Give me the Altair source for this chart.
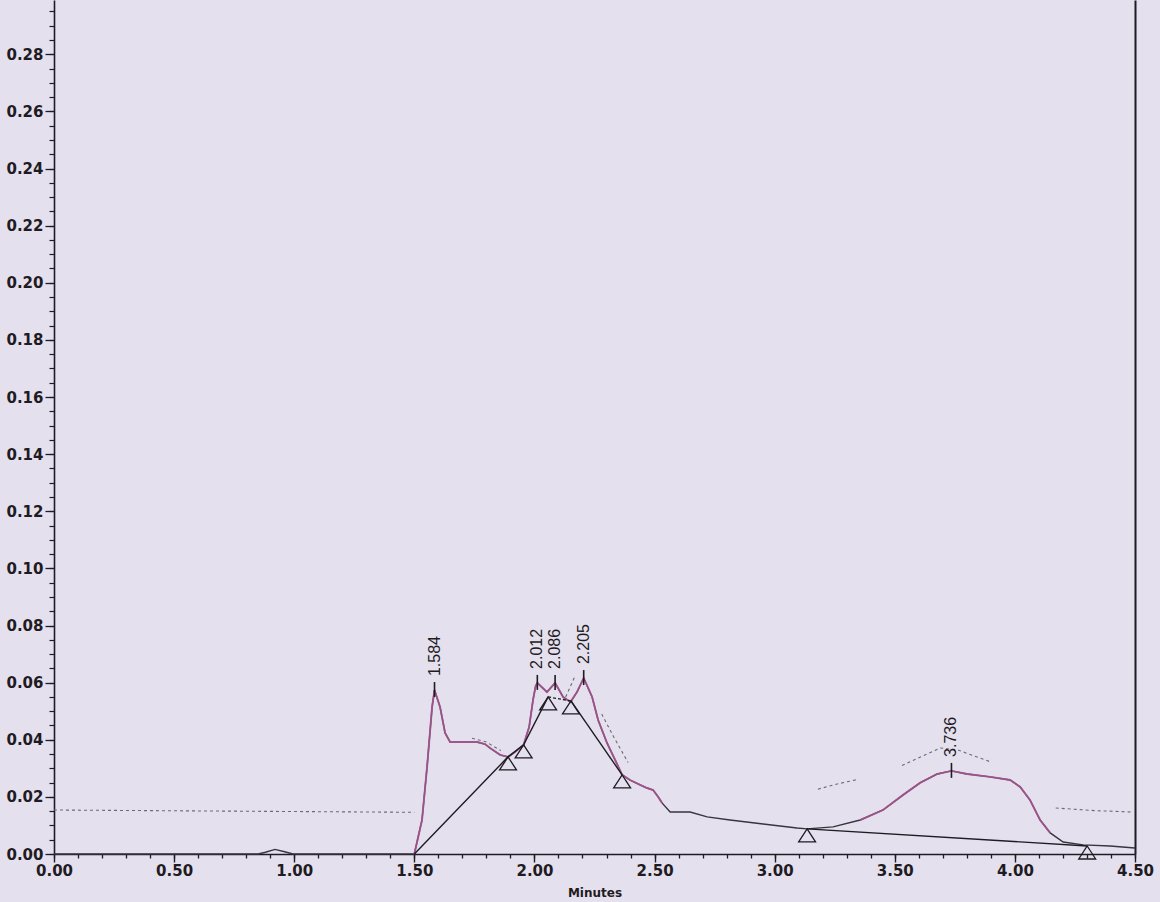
import altair as alt
import pandas as pd

# Detector signal (AU) against retention time (minutes)
trace_t = [0.00, 0.50, 0.85, 0.88, 0.92, 0.96, 0.995, 1.20, 1.50, 1.532, 1.553, 1.574,
           1.584, 1.607, 1.628, 1.649, 1.70, 1.761, 1.794, 1.815, 1.857, 1.890, 1.919,
           1.955, 1.978, 1.994, 2.005, 2.012, 2.052, 2.086, 2.119, 2.150, 2.177, 2.205,
           2.240, 2.265, 2.302, 2.336, 2.365, 2.398, 2.440, 2.469, 2.494, 2.515, 2.531,
           2.565, 2.648, 2.719, 2.814, 2.952, 3.093, 3.135, 3.243, 3.356, 3.451, 3.535,
           3.605, 3.676, 3.736, 3.801, 3.897, 3.980, 4.022, 4.063, 4.105, 4.147, 4.201,
           4.284, 4.396, 4.50]
trace_y = [0.0, 0.0, 0.0, 0.0006, 0.0016, 0.0008, 0.0, 0.0, 0.0, 0.0119, 0.0305, 0.0515,
           0.0574, 0.0515, 0.0424, 0.0392, 0.0392, 0.0392, 0.0385, 0.0371, 0.0347, 0.0340, 0.0357,
           0.0382, 0.0445, 0.0539, 0.0588, 0.0599, 0.0567, 0.0599, 0.0550, 0.0532, 0.0567, 0.0616,
           0.0550, 0.0469, 0.0389, 0.0329, 0.0277, 0.0259, 0.0242, 0.0231, 0.0224, 0.0200, 0.0179,
           0.0147, 0.0147, 0.0130, 0.0119, 0.0105, 0.0091, 0.0088, 0.0095, 0.0119, 0.0154, 0.0207,
           0.0249, 0.0280, 0.0291, 0.0280, 0.0270, 0.0259, 0.0235, 0.0189, 0.0119, 0.0074, 0.0042,
           0.0032, 0.0028, 0.0021]

# Second (dotted) channel, pieces that are printed
ref_t = [0.00, 0.75, 1.50, 1.74, 1.80, 1.86, 2.13, 2.17, 2.28, 2.33, 2.39,
         3.18, 3.26, 3.34, 3.53, 3.62, 3.69, 3.76, 3.90, 4.17, 4.33, 4.49]
ref_y = [0.0154, 0.0150, 0.0146, 0.0405, 0.0392, 0.0362, 0.0550, 0.0625, 0.0490, 0.0410, 0.0320,
         0.0227, 0.0245, 0.0260, 0.0310, 0.0345, 0.0371, 0.0365, 0.0322, 0.0161, 0.0152, 0.0147]
ref_piece = [1, 1, 1, 2, 2, 2, 3, 3, 4, 4, 4, 5, 5, 5, 6, 6, 6, 6, 6, 7, 7, 7]

# Integration baselines (solid) and the dropped shared baseline (dashed)
base_t = [1.50, 1.890, 1.955, 2.057, 2.152, 2.365, 3.135, 4.301]
base_y = [0.0, 0.0340, 0.0382, 0.0550, 0.0536, 0.0277, 0.0088, 0.0028]
base_piece = [1, 1, 1, 1, 2, 2, 3, 3]
split_t = [2.057, 2.152]
split_y = [0.0550, 0.0536]

# Peak start / end markers
mark_t = [1.890, 1.955, 2.057, 2.152, 2.365, 3.135, 4.301]
mark_y = [0.0340, 0.0382, 0.0550, 0.0536, 0.0277, 0.0088, 0.0028]

# Retention times of the labelled peaks and their heights
peak_t = [1.584, 2.012, 2.086, 2.205, 3.736]
peak_y = [0.0574, 0.0599, 0.0599, 0.0616, 0.0291]

x_major = [0.0, 0.5, 1.0, 1.5, 2.0, 2.5, 3.0, 3.5, 4.0, 4.5]
x_minor = [round(i * 0.1, 1) for i in range(46)]
y_major = [round(i * 0.02, 2) for i in range(15)]
y_minor = [round(i * 0.005, 3) for i in range(60)]

INK = "#1e1b22"
PURPLE = "#a4558f"
BG = "#e5e0ee"

trace = pd.DataFrame({"t": trace_t, "y": trace_y})
peaks_on = trace[((trace.t >= 1.50) & (trace.t <= 2.56)) | ((trace.t >= 3.30) & (trace.t <= 4.20))].copy()
peaks_on["piece"] = (peaks_on.t > 3.0).astype(int)
ref = pd.DataFrame({"t": ref_t, "y": ref_y, "piece": ref_piece})
base = pd.DataFrame({"t": base_t, "y": base_y, "piece": base_piece})
split = pd.DataFrame({"t": split_t, "y": split_y})
marks = pd.DataFrame({"t": mark_t, "y": mark_y})
peaks = pd.DataFrame({"t": peak_t, "y": peak_y, "label": [f"{v:.3f}" for v in peak_t]})

xs = alt.Scale(domain=[0, 4.5], nice=False, zero=False)
ys = alt.Scale(domain=[0, 0.299], nice=False, zero=False)

label_font = dict(labelFont="DejaVu Sans", labelFontWeight="bold", labelFontSize=15,
                  labelColor=INK, labelOverlap=False, labelFlush=False)

ax_x_major = alt.Axis(orient="bottom", values=x_major, format=".2f", grid=False,
                      tickSize=8, tickWidth=1.4, tickColor=INK, domainColor=INK,
                      domainWidth=1.6, labelPadding=1, title="Minutes",
                      titleFont="DejaVu Sans", titleFontWeight="bold", titleFontSize=12,
                      titleColor=INK, titlePadding=9, **label_font)
ax_x_minor = alt.Axis(orient="bottom", values=x_minor, labels=False, domain=False,
                      grid=False, tickSize=4, tickWidth=1.3, tickColor=INK, title=None)
ax_y_major = alt.Axis(orient="left", values=y_major, format=".2f", grid=False,
                      tickSize=9, tickWidth=1.3, tickColor=INK, domainColor=INK,
                      domainWidth=1.6, labelPadding=2, title=None, **label_font)
ax_y_minor = alt.Axis(orient="left", values=y_minor, labels=False, domain=False,
                      grid=False, tickSize=5, tickWidth=1.2, tickColor=INK, title=None)
ax_y_edge = alt.Axis(orient="right", labels=False, ticks=False, grid=False,
                     domainColor=INK, domainWidth=2, title=None)

second = alt.Chart(ref).mark_line(color="#6e6a74", strokeWidth=1.1, strokeDash=[3, 3]).encode(
    x=alt.X("t:Q", scale=xs, axis=ax_x_major),
    y=alt.Y("y:Q", scale=ys, axis=ax_y_major),
    detail="piece:N",
)

signal = alt.Chart(trace).mark_line(color="#3a3340", strokeWidth=1.4).encode(
    x=alt.X("t:Q", scale=xs, axis=ax_x_minor),
    y=alt.Y("y:Q", scale=ys, axis=ax_y_minor),
)

signal_peaks = alt.Chart(peaks_on).mark_line(color=PURPLE, strokeWidth=1.9, opacity=0.9).encode(
    x=alt.X("t:Q", scale=xs, axis=None),
    y=alt.Y("y:Q", scale=ys, axis=ax_y_edge),
    detail="piece:N",
)

baselines = alt.Chart(base).mark_line(color=INK, strokeWidth=1.4).encode(
    x=alt.X("t:Q", scale=xs, axis=None),
    y=alt.Y("y:Q", scale=ys, axis=None),
    detail="piece:N",
)

split_line = alt.Chart(split).mark_line(color=INK, strokeWidth=1.3, strokeDash=[3, 2]).encode(
    x=alt.X("t:Q", scale=xs, axis=None),
    y=alt.Y("y:Q", scale=ys, axis=None),
)

markers = alt.Chart(marks).mark_point(
    shape="M0,0L0.65,1L-0.65,1Z", size=676, filled=False, color=INK, strokeWidth=1.3, opacity=1
).encode(
    x=alt.X("t:Q", scale=xs, axis=None),
    y=alt.Y("y:Q", scale=ys, axis=None),
)

peak_ticks = alt.Chart(peaks).mark_rule(color=INK, strokeWidth=1.6, yOffset=7, y2Offset=-8).encode(
    x=alt.X("t:Q", scale=xs, axis=None),
    y=alt.Y("y:Q", scale=ys, axis=None),
    y2="y:Q",
)

peak_labels = alt.Chart(peaks).mark_text(
    angle=270, align="left", baseline="middle", dx=14, font="Liberation Sans",
    fontSize=16, color=INK
).encode(
    x=alt.X("t:Q", scale=xs, axis=None),
    y=alt.Y("y:Q", scale=ys, axis=None),
    text="label:N",
)

chart = alt.layer(
    second, signal, signal_peaks, baselines, split_line, markers, peak_ticks, peak_labels
).resolve_axis(
    x="independent", y="independent"
).properties(
    width=1081, height=854,
    background=BG,
    padding={"left": 54, "top": 0, "right": 25, "bottom": 48},
    autosize=alt.AutoSizeParams(type="none"),
).configure_view(stroke=None)

chart.save("out.html", embed_options={"renderer": "svg", "actions": False})
